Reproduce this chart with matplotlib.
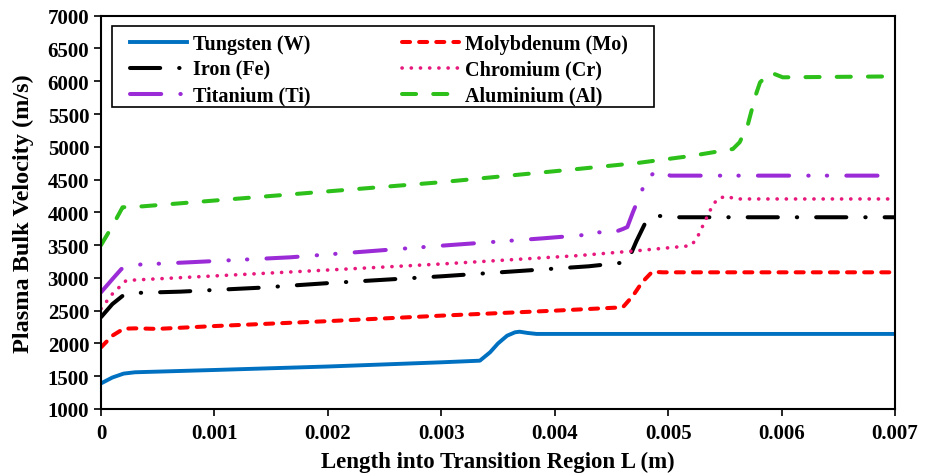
import matplotlib
matplotlib.use('Agg')
import matplotlib.pyplot as plt
from matplotlib.patches import Rectangle

# values (x in m, velocity in m/s)
w_x = [0, 0.0001, 0.0002, 0.0003, 0.001, 0.002, 0.003, 0.00334, 0.00343, 0.0035,
       0.00358, 0.00365, 0.00369, 0.00376, 0.00384, 0.005, 0.007]
w_y = [1390, 1480, 1540, 1560, 1595, 1648, 1712, 1737, 1865, 2000,
       2118, 2170, 2179, 2160, 2145, 2145, 2145]

mo_x = [0, 0.0001, 0.0002, 0.0003, 0.0005, 0.001, 0.002, 0.003, 0.004, 0.0046,
        0.00469, 0.00477, 0.00486, 0.00495, 0.007]
mo_y = [1940, 2118, 2225, 2230, 2222, 2265, 2340, 2424, 2500, 2551,
        2728, 2932, 3094, 3085, 3085]

fe_x = [0, 0.0001, 0.0002, 0.0003, 0.0007, 0.0014, 0.002, 0.003, 0.0043, 0.00464,
        0.00472, 0.00481, 0.00492, 0.0051, 0.007]
fe_y = [2400, 2600, 2739, 2770, 2790, 2850, 2920, 3024, 3177, 3240,
        3560, 3880, 3945, 3925, 3925]

cr_x = [0, 0.0001, 0.00016, 0.00022, 0.0003, 0.001, 0.002, 0.003, 0.0042, 0.00473,
        0.0052, 0.00525, 0.00532, 0.00539, 0.00544, 0.00552, 0.00559, 0.007]
cr_y = [2530, 2754, 2856, 2957, 2968, 3030, 3120, 3212, 3339, 3415,
        3491, 3593, 3848, 4101, 4214, 4245, 4204, 4204]

ti_x = [0, 0.0001, 0.00018, 0.0003, 0.00078, 0.00167, 0.003, 0.0039, 0.0043, 0.00437,
        0.00449, 0.0046, 0.00464, 0.00469, 0.00475, 0.00481, 0.0049, 0.00502, 0.007]
ti_y = [2780, 2980, 3136, 3200, 3238, 3314, 3491, 3604, 3660, 3700,
        3675, 3745, 3776, 4005, 4254, 4509, 4636, 4560, 4560]

al_x = [0, 0.0001, 0.00019, 0.00037, 0.001, 0.002, 0.003, 0.0042, 0.00473, 0.0052,
        0.00557, 0.00563, 0.0057, 0.00577, 0.00581, 0.0059, 0.00601, 0.007]
al_y = [3500, 3790, 4077, 4092, 4180, 4320, 4460, 4661, 4753, 4860,
        4966, 5069, 5322, 5780, 5983, 6136, 6060, 6074]

x_ticks = [0, 0.001, 0.002, 0.003, 0.004, 0.005, 0.006, 0.007]
x_tick_labels = ['0', '0.001', '0.002', '0.003', '0.004', '0.005', '0.006', '0.007']
y_ticks = list(range(1000, 7001, 500))

plt.rcParams['font.family'] = ['Liberation Serif', 'DejaVu Serif']
plt.rcParams['font.weight'] = 'bold'

fig = plt.figure(figsize=(9.3, 4.77), dpi=100)
ax = fig.add_axes([0.1086, 0.1405, 0.8538, 0.8245])

lw = 2.9
lines = {}
lines['w'], = ax.plot(w_x, w_y, color='#0070C0', lw=2.8, label='Tungsten (W)')
lines['fe'], = ax.plot(fe_x, fe_y, color='black', lw=lw, dashes=(7.5, 4.7, 0.1, 4.7),
                       dash_capstyle='round', label='Iron (Fe)')
lines['ti'], = ax.plot(ti_x, ti_y, color='#9A2BD6', lw=lw,
                       dashes=(7.75, 4.75, 0.1, 4.5, 0.1, 4.75),
                       dash_capstyle='round', label='Titanium (Ti)')
lines['mo'], = ax.plot(mo_x, mo_y, color='#FF0000', lw=lw, dashes=(2.0, 2.25),
                       dash_capstyle='round', label='Molybdenum (Mo)')
lines['cr'], = ax.plot(cr_x, cr_y, color='#E8197D', lw=2.6, dashes=(0.05, 2.5),
                       dash_capstyle='round', label='Chromium (Cr)')
lines['al'], = ax.plot(al_x, al_y, color='#2EC01A', lw=lw, dashes=(3.5, 4.25),
                       dash_capstyle='round', label='Aluminium (Al)')

ax.set_xlim(0, 0.007)
ax.set_ylim(1000, 7000)
ax.set_xticks(x_ticks)
ax.set_xticklabels(x_tick_labels)
ax.set_yticks(y_ticks)
ax.tick_params(direction='out', length=5, width=1.2, labelsize=15)
ax.tick_params(axis='x', pad=5)
for s in ax.spines.values():
    s.set_linewidth(1.5)

ax.set_xlabel('Length into Transition Region L (m)', fontsize=16.5, fontweight='bold',
              labelpad=6)
ax.set_ylabel('Plasma Bulk Velocity (m/s)', fontsize=17.5, fontweight='bold',
              labelpad=10)

# legend box drawn separately so the inner padding matches the original
ax.add_patch(Rectangle((0.0139, 0.7686), 0.6826, 0.2044, transform=ax.transAxes,
                       facecolor='white', edgecolor='black', lw=1.2, zorder=4))

order = ['w', 'fe', 'ti', 'mo', 'cr', 'al']
leg = ax.legend([lines[k] for k in order], [lines[k].get_label() for k in order],
                ncol=2, loc='upper left', bbox_to_anchor=(0.0187, 0.990),
                fontsize=14.5, frameon=False,
                handlelength=2.85, handletextpad=0.3, columnspacing=4.5,
                labelspacing=0.3, borderpad=0.2)
leg.set_zorder(5)

fig.savefig('out.png', dpi=100)
